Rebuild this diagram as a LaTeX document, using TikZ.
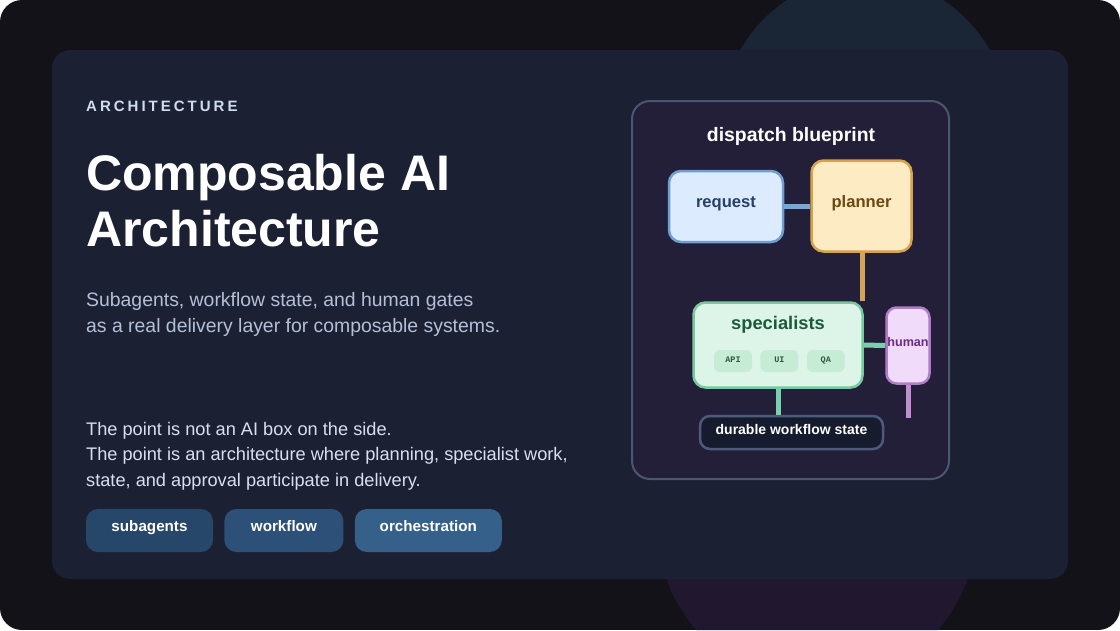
\documentclass[tikz,border=0pt]{standalone}
\usepackage{fontspec}
\setmainfont{Liberation Sans}
\newfontfamily\chipmono{Liberation Mono}
\usetikzlibrary{positioning}

\definecolor{pagebg}{HTML}{131219}
\definecolor{glowtop}{HTML}{1A2535}
\definecolor{glowbot}{HTML}{211830}
\definecolor{cardbg}{HTML}{1C2033}
\definecolor{panelbg}{HTML}{231F38}
\definecolor{panelline}{HTML}{4B5672}
\definecolor{kickertext}{HTML}{D0DCF0}
\definecolor{subtext}{HTML}{B4C0D8}
\definecolor{bodytext}{HTML}{D8E0F0}
\definecolor{reqfill}{HTML}{DCEBFD}
\definecolor{reqline}{HTML}{6F9FD0}
\definecolor{reqtext}{HTML}{26406A}
\definecolor{planfill}{HTML}{FDEBC4}
\definecolor{planline}{HTML}{D4A34C}
\definecolor{plantext}{HTML}{6B4810}
\definecolor{specfill}{HTML}{DCF5E8}
\definecolor{specline}{HTML}{78C8A0}
\definecolor{spectext}{HTML}{1E5A3A}
\definecolor{chipfill}{HTML}{C6ECD6}
\definecolor{chiptext}{HTML}{2C5A40}
\definecolor{humfill}{HTML}{F0DCFA}
\definecolor{humline}{HTML}{B07CC8}
\definecolor{humtext}{HTML}{6A2C80}
\definecolor{statefill}{HTML}{161C2E}
\definecolor{stateline}{HTML}{4D5B78}
\definecolor{linkblue}{HTML}{7AA6D6}
\definecolor{linkgold}{HTML}{D2A55A}
\definecolor{linkgreen}{HTML}{78D0AE}
\definecolor{linkviolet}{HTML}{C08FD0}
\definecolor{tagA}{HTML}{27476A}
\definecolor{tagB}{HTML}{2C5078}
\definecolor{tagC}{HTML}{34608A}

\tikzset{
  box/.style={draw, line width=2.5pt, rounded corners=12pt, inner sep=0pt,
    text height=12pt, text depth=10pt,
    font=\bfseries\fontsize{16.6}{18}\selectfont},
  chip/.style={fill=chipfill, rounded corners=6pt, minimum width=38pt,
    minimum height=22pt, inner sep=0pt, text=chiptext,
    text height=6pt, text depth=3pt,
    font=\chipmono\bfseries\fontsize{8.5}{10}\selectfont},
  link/.style={line width=5pt},
  tag/.style={rounded corners=12pt, minimum height=43pt, inner sep=0pt,
    text=white, text height=10pt, text depth=9pt,
    font=\bfseries\fontsize{15.2}{16}\selectfont},
}

\begin{document}
\begin{tikzpicture}[x=1pt,y=-1pt]
  \useasboundingbox (0,0) rectangle (1120,630);
  \fill[white] (0,0) rectangle (1120,630);
  \begin{scope}
    \clip[rounded corners=22pt] (0,0) rectangle (1120,630);
    \fill[pagebg] (0,0) rectangle (1120,630);
    \fill[glowtop] (865,120) circle[radius=143];
    \fill[glowbot] (817,525) circle[radius=160];
  \end{scope}
  \fill[cardbg, rounded corners=18pt] (52,50) rectangle (1068,579);

  % left column
  \node[anchor=base west, inner sep=0pt, text=kickertext,
    font=\bfseries\fontsize{15}{18}\selectfont\addfontfeature{LetterSpace=20}]
    (kicker) at (86,111) {ARCHITECTURE};
  \node[anchor=base west, inner sep=0pt, text=white, align=left,
    font=\bfseries\fontsize{50}{56}\selectfont]
    (headline) at (86,246) {Composable AI\\Architecture};
  \node[anchor=base west, inner sep=0pt, text=subtext, align=left,
    font=\fontsize{19.4}{26}\selectfont]
    (subline) at (86,332) {Subagents, workflow state, and human gates\\as a real delivery layer for composable systems.};
  \node[anchor=base west, inner sep=0pt, text=bodytext, align=left,
    font=\fontsize{18.2}{25.5}\selectfont]
    (body) at (86,486) {The point is not an AI box on the side.\\The point is an architecture where planning, specialist work,\\state, and approval participate in delivery.};

  \node[tag, fill=tagA, minimum width=127pt] (subagents) at (149.5,530.5) {subagents};
  \node[tag, fill=tagB, minimum width=119pt, right=11pt of subagents] (workflow) {workflow};
  \node[tag, fill=tagC, minimum width=147pt, right=11pt of workflow] (orchestration) {orchestration};

  % blueprint panel
  \draw[panelline, fill=panelbg, line width=2pt, rounded corners=18pt] (632,101) rectangle (949,479);
  \node[text=white, font=\bfseries\fontsize{19.4}{22}\selectfont] (bptitle) at (791,136) {dispatch blueprint};

  \node[box, fill=reqfill, draw=reqline, text=reqtext, minimum width=114pt, minimum height=71pt] (request) at (726,206.5) {request};
  \node[box, fill=planfill, draw=planline, text=plantext, minimum width=100pt, minimum height=91pt] (planner) at (861.5,206) {planner};
  \node[box, fill=specfill, draw=specline, minimum width=169pt, minimum height=85pt] (specialists) at (778,345) {};
  \node[text=spectext, font=\bfseries\fontsize{18.3}{20}\selectfont, below=11pt of specialists.north] (spectitle) {specialists};
  \node[chip] (api) at (733,361) {API};
  \node[chip, right=8pt of api] (ui) {UI};
  \node[chip, right=8pt of ui] (qa) {QA};
  \node[box, fill=humfill, draw=humline, text=humtext, minimum width=43pt, minimum height=76pt,
    rounded corners=10pt, font=\bfseries\fontsize{12.6}{15}\selectfont] (human) at (908,345.5) {human};
  \node[box, fill=statefill, draw=stateline, text=white, minimum width=183pt, minimum height=33pt,
    rounded corners=10pt, text height=9pt, text depth=6pt,
    font=\bfseries\fontsize{14}{15}\selectfont] (state) at (791.5,432.5) {durable workflow state};
  \coordinate (gateout) at (908,418);

  % links
  \draw[link, linkblue] (request.east) -- (request.east -| planner.west);
  \draw[link, linkgold] ([xshift=0.5pt]planner.south) -- ([xshift=0.5pt]planner.south |- specialists.north);
  \draw[link, linkgreen] (specialists.east) -- (human.west);
  \draw[link, linkgreen] (specialists.south) -- (specialists.south |- state.north);
  \draw[link, linkviolet] (human.south) -- (gateout);
\end{tikzpicture}
\end{document}
